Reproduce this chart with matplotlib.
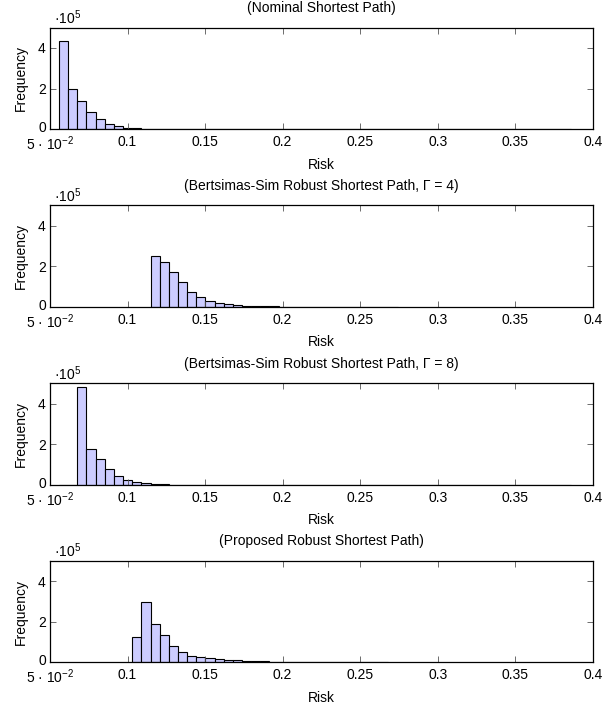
import matplotlib
matplotlib.use("Agg")
import matplotlib.pyplot as plt
import matplotlib.transforms as mtransforms
import numpy as np

plt.rcParams['font.family'] = ['Liberation Sans', 'DejaVu Sans']
plt.rcParams['mathtext.fontset'] = 'custom'
plt.rcParams['mathtext.rm'] = 'Liberation Sans'
plt.rcParams['mathtext.it'] = 'Liberation Sans:italic'

# common histogram bin grid (risk)
bin_start = 0.0558
bin_width = 0.0059

titles = ["(Nominal Shortest Path)",
          "(Bertsimas-Sim Robust Shortest Path, Γ = 4)",
          "(Bertsimas-Sim Robust Shortest Path, Γ = 8)",
          "(Proposed Robust Shortest Path)"]

# frequencies in units of 1e5, per bin starting at bin_start
nominal = [4.33, 2.00, 1.40, 0.84, 0.50, 0.26, 0.14, 0.08, 0.05, 0.03,
           0.02, 0.016, 0.013, 0.011, 0.009, 0.008, 0.007, 0.006, 0.005, 0.005,
           0.004, 0.004, 0.004, 0.003, 0.003, 0.003, 0.003, 0.003, 0.002, 0.002,
           0.002, 0.002, 0.002, 0.002, 0.002, 0.002, 0.002, 0.002, 0.002, 0.002,
           0.002, 0.002, 0.002, 0.002, 0.002, 0.002, 0.002, 0.002, 0.002, 0.002,
           0.002, 0.002, 0.002, 0.002, 0.002, 0.002]
bs_gamma4 = [0, 0, 0, 0, 0, 0, 0, 0, 0, 0,
             2.49, 2.20, 1.71, 1.21, 0.74, 0.48, 0.30, 0.20, 0.13, 0.10,
             0.066, 0.05, 0.035, 0.03, 0.02, 0.015, 0.01, 0.008, 0.006, 0.005,
             0.004, 0.003, 0.003, 0.002, 0.002, 0.002, 0.002]
bs_gamma8 = [0, 0, 4.82, 1.78, 1.26, 0.78, 0.44, 0.25, 0.13, 0.08,
             0.05, 0.03, 0.02, 0.015, 0.011, 0.009, 0.007, 0.006, 0.005, 0.004,
             0.004, 0.003, 0.003, 0.003, 0.003, 0.002, 0.002, 0.002, 0.002, 0.002,
             0.002, 0.002, 0.002, 0.002, 0.002, 0.002, 0.002, 0.002, 0.002, 0.002,
             0.002, 0.002, 0.002, 0.002, 0.002, 0.002, 0.002, 0.002, 0.002, 0.002,
             0.002, 0.002, 0.002, 0.002, 0.002, 0.002]
proposed = [0, 0, 0, 0, 0, 0, 0, 0,
            1.26, 2.98, 1.88, 1.33, 0.80, 0.49, 0.33, 0.25, 0.20, 0.15,
            0.12, 0.09, 0.07, 0.05, 0.04, 0.03, 0.02, 0.015, 0.01, 0.008,
            0.006, 0.005, 0.004, 0.003, 0.003, 0.002, 0.002, 0.002]

series = [nominal, bs_gamma4, bs_gamma8, proposed]

xticks = [0.05, 0.1, 0.15, 0.2, 0.25, 0.3, 0.35, 0.4]
xticklabels = ["5 · 10$^{-2}$", "0.1", "0.15", "0.2", "0.25", "0.3", "0.35", "0.4"]
yticks = [0, 2, 4]

fig = plt.figure(figsize=(6.02, 7.06), dpi=100)
left, width, height = 0.0831, 0.9015, 0.1439
bottoms = [0.8169, 0.5652, 0.3130, 0.0619]
fs = 10

for k in range(4):
    ax = fig.add_axes([left, bottoms[k], width, height])
    vals = np.array(series[k], dtype=float)
    edges = bin_start + bin_width * np.arange(len(vals))
    first = np.argmax(vals > 0)
    if k == 2:
        first = 0
    ax.bar(edges[first:], vals[first:], width=bin_width, align='edge',
           color='#ccccff', edgecolor='black', linewidth=0.8)
    ax.set_xlim(0.05, 0.4)
    ax.set_ylim(0, 5)
    ax.set_xticks(xticks)
    ax.set_xticklabels(xticklabels, fontsize=fs)
    ax.set_yticks(yticks)
    ax.set_yticklabels([str(v) for v in yticks], fontsize=fs)
    ax.tick_params(direction='in', top=True, right=True, length=4, width=0.6,
                   color='#555555')
    ax.tick_params(axis='x', pad=4)
    ax.tick_params(axis='y', pad=3)
    # nudge the "0" label slightly upwards so it does not collide with 5·10^-2
    zero_lbl = ax.get_yticklabels()[0]
    zero_lbl.set_transform(zero_lbl.get_transform() +
                           mtransforms.ScaledTranslation(0, 2 / 72, fig.dpi_scale_trans))
    for s in ax.spines.values():
        s.set_linewidth(0.9)
    ax.set_xlabel("Risk", fontsize=fs, labelpad=3)
    ax.set_ylabel("Frequency", fontsize=fs, labelpad=7)
    ax.set_title(titles[k], fontsize=fs, pad=11)
    ax.text(0.008, 1.005, "·10$^5$", transform=ax.transAxes, fontsize=fs,
            ha='left', va='bottom')

fig.savefig("out.png", dpi=100)
